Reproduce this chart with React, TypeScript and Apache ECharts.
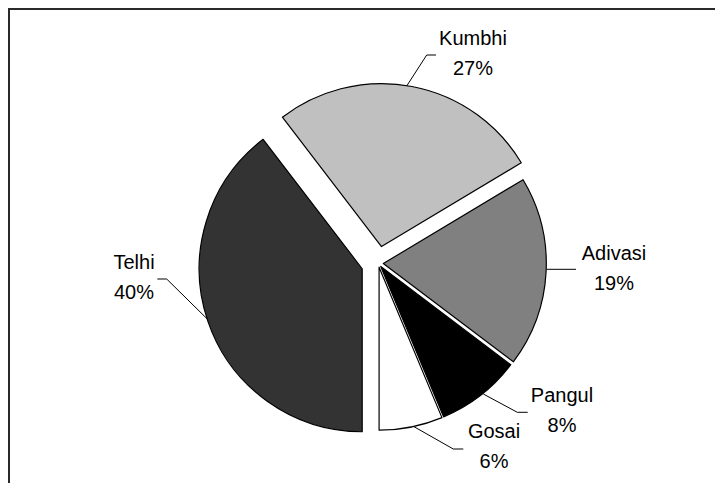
import React, { useEffect, useRef } from "react";
import * as echarts from "echarts";

const CATEGORIES = ["Telhi", "Kumbhi", "Adivasi", "Pangul", "Gosai"];
const VALUES = [39.6, 26.8, 18.9, 8.4, 6.3];

const COLORS = ["#333333", "#c0c0c0", "#808080", "#000000", "#ffffff"];
const EXPLODE = [17, 17, 5, 4, 4];
const CENTER = [378.3, 263.3];
const RADIUS = 163;
const START_ANGLE = 270;

// label block centres and leader lines (layout only)
const LABEL_POS: number[][] = [
  [134, 277],
  [473, 53],
  [614, 267.5],
  [562, 409.5],
  [494, 446],
];
const LEADERS: number[][][] = [
  [[208.3, 320], [166.7, 279], [157.3, 279]],
  [[406.7, 86], [426.7, 55], [436, 55]],
  [[546.7, 269.3], [561, 269.3], [576, 269.3]],
  [[483.3, 394], [517.3, 412.3], [527.7, 412.3]],
  [[414, 426.7], [453.3, 449], [463.3, 449]],
];

export default function App() {
  const ref = useRef<HTMLDivElement>(null);
  useEffect(() => {
    if (!ref.current) return;
    const chart = echarts.init(ref.current, null, { renderer: "svg" });
    const total = VALUES.reduce((a, b) => a + b, 0);
    let cum = 0;
    const series = VALUES.map((v, i) => {
      const start = START_ANGLE - (360 * cum) / total;
      const mid = ((start - (180 * v) / total) * Math.PI) / 180;
      cum += v;
      const cx = CENTER[0] + Math.cos(mid) * EXPLODE[i];
      const cy = CENTER[1] - Math.sin(mid) * EXPLODE[i];
      return {
        type: "pie",
        center: [cx, cy],
        radius: RADIUS,
        startAngle: START_ANGLE,
        clockwise: true,
        avoidLabelOverlap: false,
        silent: true,
        emphasis: { disabled: true },
        data: VALUES.map((val, j) => ({
          name: CATEGORIES[j],
          value: val,
          itemStyle:
            j === i
              ? { color: COLORS[j], borderColor: "#000", borderWidth: 1.2 }
              : { color: "rgba(0,0,0,0)", borderWidth: 0 },
          label: { show: j === i },
          labelLine: { show: j === i },
        })),
        label: {
          position: "outside",
          formatter: (p: any) => `${p.name}\n${Math.round(p.percent)}%`,
          color: "#000",
          fontFamily: "'Liberation Sans', Arial, sans-serif",
          fontSize: 20,
          lineHeight: 30,
          align: "center",
        },
        labelLine: {
          show: true,
          lineStyle: { color: "#000", width: 1 },
        },
        labelLayout: (params: any) => ({
          x: LABEL_POS[params.dataIndex][0],
          y: LABEL_POS[params.dataIndex][1],
          align: "center",
          verticalAlign: "middle",
          labelLinePoints: LEADERS[params.dataIndex],
        }),
      };
    });
    chart.setOption({
      animation: false,
      backgroundColor: "#ffffff",
      graphic: [
        {
          type: "polyline",
          shape: { points: [[9, 483], [9, 9], [715, 9]] },
          style: { stroke: "#2a2a2a", lineWidth: 2, fill: "none" },
          silent: true,
        },
      ],
      series,
    });
    return () => chart.dispose();
  }, []);
  return (
    <div
      ref={ref}
      style={{ position: "absolute", left: 0, top: 0, width: 715, height: 483 }}
    />
  );
}
